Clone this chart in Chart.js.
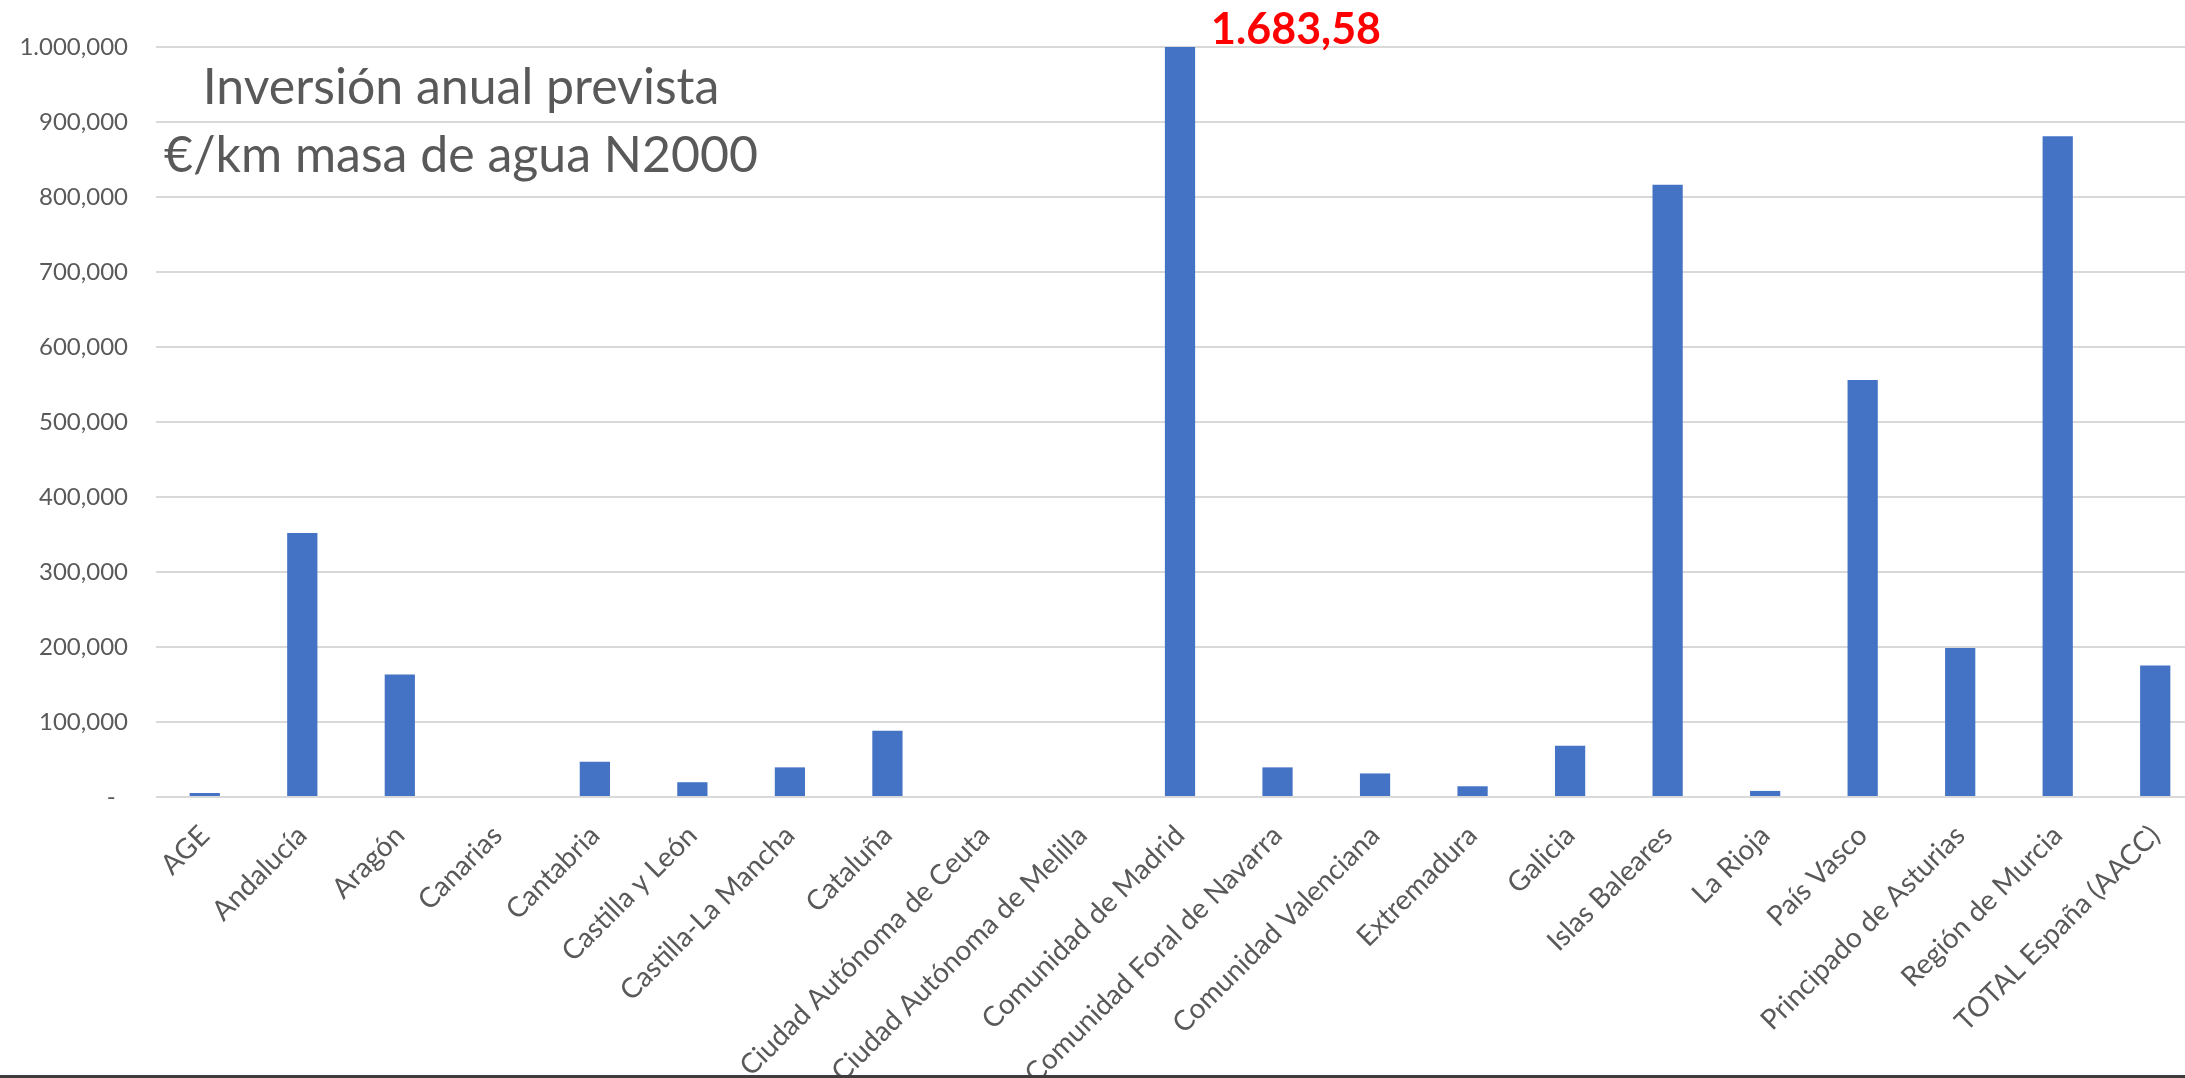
<!DOCTYPE html>
<html>
<head>
<meta charset="utf-8">
<script src="https://cdn.jsdelivr.net/npm/chart.js@4/dist/chart.umd.min.js"></script>
<style>
  html, body { margin: 0; padding: 0; background: #fff; overflow: hidden; width: 2185px; height: 1078px; }
  #wrap { position: absolute; left: 0; top: 0; width: 2204px; height: 1078px; }
  #bottom-line { position: absolute; left: 0; top: 1075px; width: 2185px; height: 3px; background: #3c3c3c; }
</style>
</head>
<body>
<div id="wrap"><canvas id="chart" width="2204" height="1078"></canvas></div>
<div id="bottom-line"></div>
<script>
// Datos
const categorias = [
  'AGE', 'Andalucía', 'Aragón', 'Canarias', 'Cantabria', 'Castilla y León',
  'Castilla-La Mancha', 'Cataluña', 'Ciudad Autónoma de Ceuta', 'Ciudad Autónoma de Melilla',
  'Comunidad de Madrid', 'Comunidad Foral de Navarra', 'Comunidad Valenciana', 'Extremadura',
  'Galicia', 'Islas Baleares', 'La Rioja', 'País Vasco', 'Principado de Asturias',
  'Región de Murcia', 'TOTAL España (AACC)'
];
const inversion = [
  5.3, 352, 163.5, 0, 47, 19.7, 39.5, 88.3, 0, 0,
  1683.58, 39.5, 31.4, 14.3, 68.2, 816.5, 8.1, 556, 198.7, 881, 175.3
];
const tituloLineas = ['Inversión anual prevista', '€/km masa de agua N2000'];
const etiquetaDestacada = '1.683,58';
const indiceDestacado = 10;

const FONT = 'Lato';
const GRIS = '#595959';

// formato tipo Excel: 1.000,000
function formatoEje(v) {
  if (v === 0) return '-  ';
  const partes = v.toFixed(3).split('.');
  partes[0] = partes[0].replace(/\B(?=(\d{3})+(?!\d))/g, '.');
  return partes[0] + ',' + partes[1];
}

const textoPlugin = {
  id: 'textos',
  afterDraw(chart) {
    const ctx = chart.ctx;
    ctx.save();
    // titulo dentro del grafico
    ctx.fillStyle = GRIS;
    ctx.font = `50px ${FONT}`;
    ctx.textAlign = 'center';
    ctx.textBaseline = 'middle';
    ctx.fillText(tituloLineas[0], 461, 88);
    ctx.fillText(tituloLineas[1], 461, 156);

    // valor de Madrid (barra cortada)
    const bar = chart.getDatasetMeta(0).data[indiceDestacado];
    ctx.fillStyle = '#ff0000';
    ctx.font = `bold 43px ${FONT}`;
    ctx.textAlign = 'left';
    ctx.fillText(etiquetaDestacada, bar.x + bar.width / 2 + 16, chart.chartArea.top - 17);
    ctx.restore();
  }
};

new Chart(document.getElementById('chart').getContext('2d'), {
  type: 'bar',
  data: {
    labels: categorias,
    datasets: [{
      data: inversion,
      backgroundColor: '#4472c4',
      borderWidth: 0,
      categoryPercentage: 1,
      barPercentage: 0.31
    }]
  },
  options: {
    responsive: false,
    animation: false,
    layout: { padding: { top: 47, left: 0, right: 0, bottom: 0 } },
    plugins: {
      legend: { display: false },
      tooltip: { enabled: false }
    },
    scales: {
      y: {
        min: 0,
        max: 1000,
        afterFit(scale) { scale.width = 156; },
        ticks: {
          stepSize: 100,
          padding: 28,
          color: GRIS,
          font: { family: FONT, size: 24 },
          callback: v => formatoEje(v)
        },
        grid: { color: '#d9d9d9', lineWidth: 2, drawTicks: false },
        border: { display: false }
      },
      x: {
        afterFit(scale) { scale.height = 281; },
        ticks: {
          autoSkip: false,
          minRotation: 45,
          maxRotation: 45,
          padding: 22,
          color: GRIS,
          font: { family: FONT, size: 28 }
        },
        grid: { display: false, drawTicks: false },
        border: { display: false }
      }
    }
  },
  plugins: [textoPlugin]
});
</script>
</body>
</html>
